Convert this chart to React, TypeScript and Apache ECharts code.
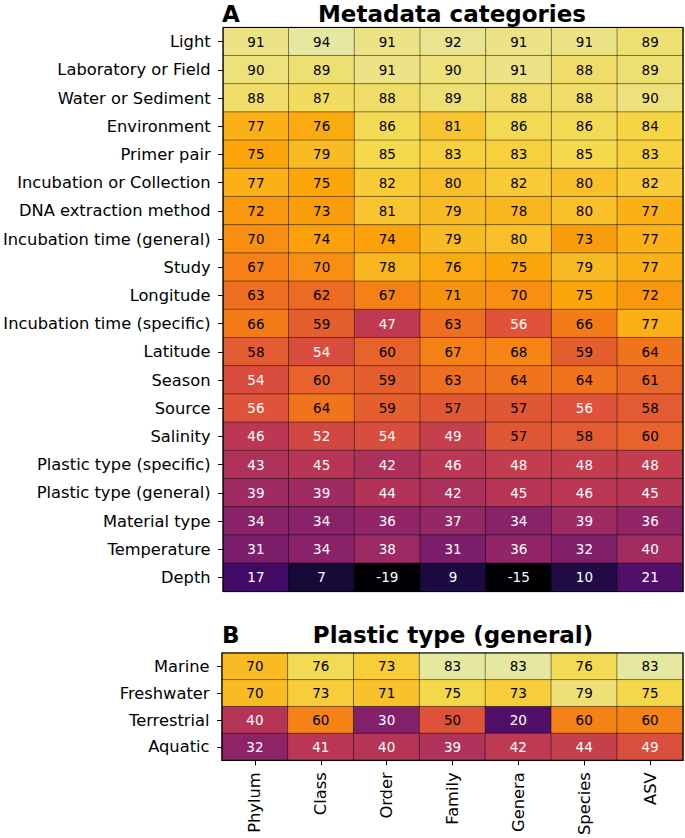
import React, { useEffect, useRef } from 'react';
import * as echarts from 'echarts';

const ranks = ['Phylum', 'Class', 'Order', 'Family', 'Genera', 'Species', 'ASV'];

const metadataCategories = [
  'Light',
  'Laboratory or Field',
  'Water or Sediment',
  'Environment',
  'Primer pair',
  'Incubation or Collection',
  'DNA extraction method',
  'Incubation time (general)',
  'Study',
  'Longitude',
  'Incubation time (specific)',
  'Latitude',
  'Season',
  'Source',
  'Salinity',
  'Plastic type (specific)',
  'Plastic type (general)',
  'Material type',
  'Temperature',
  'Depth',
];

const metadataValues = [
  [91, 94, 91, 92, 91, 91, 89],
  [90, 89, 91, 90, 91, 88, 89],
  [88, 87, 88, 89, 88, 88, 90],
  [77, 76, 86, 81, 86, 86, 84],
  [75, 79, 85, 83, 83, 85, 83],
  [77, 75, 82, 80, 82, 80, 82],
  [72, 73, 81, 79, 78, 80, 77],
  [70, 74, 74, 79, 80, 73, 77],
  [67, 70, 78, 76, 75, 79, 77],
  [63, 62, 67, 71, 70, 75, 72],
  [66, 59, 47, 63, 56, 66, 77],
  [58, 54, 60, 67, 68, 59, 64],
  [54, 60, 59, 63, 64, 64, 61],
  [56, 64, 59, 57, 57, 56, 58],
  [46, 52, 54, 49, 57, 58, 60],
  [43, 45, 42, 46, 48, 48, 48],
  [39, 39, 44, 42, 45, 46, 45],
  [34, 34, 36, 37, 34, 39, 36],
  [31, 34, 38, 31, 36, 32, 40],
  [17, 7, -19, 9, -15, 10, 21],
];

const plasticCategories = ['Marine', 'Freshwater', 'Terrestrial', 'Aquatic'];

const plasticValues = [
  [70, 76, 73, 83, 83, 76, 83],
  [70, 73, 71, 75, 73, 79, 75],
  [40, 60, 30, 50, 20, 60, 60],
  [32, 41, 40, 39, 42, 44, 49],
];

const titleA = 'Metadata categories';
const titleB = 'Plastic type (general)';

const inferno = [
  '#000004', '#160b39', '#420a68', '#6a176e', '#932667', '#bc3754',
  '#dd513a', '#f37819', '#fca50a', '#f6d746', '#e6e8a2',
];

const FONT = 'DejaVu Sans';

function buildData(values: number[][], threshold: number) {
  const out: any[] = [];
  values.forEach((row, r) => {
    row.forEach((v, c) => {
      out.push({
        value: [c, r, v],
        label: { color: v < threshold ? '#ffffff' : '#000000' },
      });
    });
  });
  return out;
}

export default function App() {
  const ref = useRef<HTMLDivElement>(null);

  useEffect(() => {
    if (!ref.current) return;
    const chart = echarts.init(ref.current, null, { renderer: 'svg' });

    const gridA = { left: 222, top: 27.5, width: 461, height: 564 };
    const gridB = { left: 222, top: 653, width: 461, height: 109 };

    const yAxisCommon = {
      type: 'category',
      inverse: true,
      axisLabel: { fontSize: 16.3, color: '#000', margin: 12.5, fontFamily: FONT, interval: 0 },
      axisTick: { show: true, alignWithLabel: true, length: 5, lineStyle: { color: '#000', width: 1 } },
      axisLine: { show: true, lineStyle: { color: '#000', width: 1 } },
      splitLine: { show: false },
    };

    const cellLabel = { show: true, fontSize: 13.5, fontFamily: FONT };
    const cellStyle = { borderColor: 'rgba(0,0,0,0.55)', borderWidth: 0.8 };

    chart.setOption({
      animation: false,
      textStyle: { fontFamily: FONT },
      grid: [
        { ...gridA, show: true, borderColor: '#000', borderWidth: 1.2, backgroundColor: 'transparent', z: 10 },
        { ...gridB, show: true, borderColor: '#000', borderWidth: 1.2, backgroundColor: 'transparent', z: 10 },
      ],
      graphic: [
        { type: 'text', x: 222, y: 14, style: { text: 'A', fontSize: 23, fontWeight: 'bold', fontFamily: FONT, fill: '#000', align: 'left', verticalAlign: 'middle' } },
        { type: 'text', x: 452, y: 14, style: { text: titleA, fontSize: 23, fontWeight: 'bold', fontFamily: FONT, fill: '#000', align: 'center', verticalAlign: 'middle' } },
        { type: 'text', x: 222, y: 635, style: { text: 'B', fontSize: 23, fontWeight: 'bold', fontFamily: FONT, fill: '#000', align: 'left', verticalAlign: 'middle' } },
        { type: 'text', x: 453, y: 635, style: { text: titleB, fontSize: 23, fontWeight: 'bold', fontFamily: FONT, fill: '#000', align: 'center', verticalAlign: 'middle' } },
      ],
      xAxis: [
        {
          gridIndex: 0, type: 'category', data: ranks,
          axisLabel: { show: false }, axisTick: { show: false },
          axisLine: { show: true, lineStyle: { color: '#000' } }, splitLine: { show: false },
        },
        {
          gridIndex: 1, type: 'category', data: ranks,
          axisLabel: { rotate: 90, fontSize: 16.3, color: '#000', margin: 12, fontFamily: FONT, interval: 0 },
          axisTick: { show: true, alignWithLabel: true, length: 5, lineStyle: { color: '#000', width: 1 } },
          axisLine: { show: true, lineStyle: { color: '#000' } }, splitLine: { show: false },
        },
      ],
      yAxis: [
        { ...yAxisCommon, gridIndex: 0, data: metadataCategories },
        { ...yAxisCommon, gridIndex: 1, data: plasticCategories },
      ],
      visualMap: [
        {
          type: 'continuous', show: false, seriesIndex: 0, dimension: 2,
          min: -2, max: 94, inRange: { color: inferno }, outOfRange: { color: '#000004' },
        },
        {
          type: 'continuous', show: false, seriesIndex: 1, dimension: 2,
          min: 0, max: 83, inRange: { color: inferno }, outOfRange: { color: '#000004' },
        },
      ],
      series: [
        {
          type: 'heatmap', xAxisIndex: 0, yAxisIndex: 0,
          data: buildData(metadataValues, 56.5),
          label: cellLabel, itemStyle: cellStyle,
          emphasis: { disabled: true },
        },
        {
          type: 'heatmap', xAxisIndex: 1, yAxisIndex: 1,
          data: buildData(plasticValues, 49.5),
          label: cellLabel, itemStyle: cellStyle,
          emphasis: { disabled: true },
        },
      ],
    });

    return () => chart.dispose();
  }, []);

  return (
    <div
      ref={ref}
      style={{ position: 'fixed', left: 0, top: 0, width: 685, height: 838, background: '#fff' }}
    />
  );
}
